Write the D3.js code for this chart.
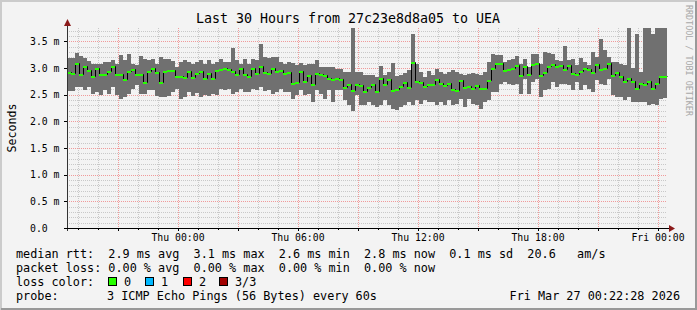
<!DOCTYPE html>
<html>
<head>
<meta charset="utf-8">
<script src="https://cdn.jsdelivr.net/npm/d3@7"></script>
<style>
body { margin: 0; background: #f3f3f3; }
text { font-family: "DejaVu Sans Mono", monospace; white-space: pre; }
</style>
</head>
<body>
<div id="chart"></div>
<script>
// median / max / min rtt per 12 minute step, in ms
const rttMedian = [
  2.925,2.913,3.100,2.894,3.031,2.956,2.844,3.006,2.894,2.881,
  2.950,3.031,2.881,2.881,2.800,2.944,2.988,2.881,2.894,2.738,
  2.938,3.006,2.925,2.738,2.944,2.969,2.956,2.844,2.844,2.831,
  2.944,2.831,2.906,2.938,2.819,2.906,2.819,2.956,2.988,3.006,
  2.975,2.944,2.881,3.006,2.881,2.844,3.006,2.906,3.031,2.925,
  2.913,3.006,2.944,2.969,2.913,2.925,2.719,2.738,2.944,2.756,
  2.875,2.706,2.913,2.894,2.875,2.819,2.800,2.813,2.800,2.644,
  2.706,2.581,2.706,2.675,2.569,2.644,2.694,2.569,2.819,2.694,
  2.800,2.581,2.613,2.656,2.738,2.644,3.113,2.756,2.738,2.656,
  2.706,2.706,2.800,2.719,2.675,2.719,2.613,2.594,2.781,2.644,
  2.656,2.631,2.688,2.631,2.631,2.781,3.006,3.100,3.100,2.969,
  2.988,3.006,3.050,2.863,3.031,2.881,3.069,3.100,2.863,2.925,
  3.031,3.069,3.038,3.050,2.988,3.063,2.913,2.881,2.938,3.006,
  2.988,2.925,3.081,2.988,3.006,3.094,2.863,2.925,2.844,2.756,
  2.819,2.750,2.631,2.719,2.694,2.756,2.631,2.719,2.844,2.850
];
const rttMax = [
  3.194,3.194,3.281,3.219,3.194,3.125,3.081,3.081,3.081,3.113,
  3.113,3.156,3.081,3.250,3.144,3.256,3.081,3.050,3.219,3.175,
  3.156,3.175,3.081,3.206,3.163,3.175,3.125,3.019,3.113,3.144,
  3.113,3.081,3.113,3.144,3.081,3.156,3.081,3.113,3.175,3.113,
  3.113,3.375,3.156,3.081,3.175,3.081,3.175,3.144,3.456,3.206,
  3.194,3.206,3.206,3.113,3.081,3.113,3.100,3.050,3.094,3.050,
  3.081,3.081,3.144,3.019,3.019,3.019,3.019,2.988,2.988,2.925,
  2.925,3.750,2.925,2.925,2.863,2.863,2.875,2.831,3.038,2.863,
  2.925,3.100,2.844,2.863,2.906,2.969,3.631,3.081,2.925,2.831,
  2.944,2.863,2.988,2.925,2.894,2.925,2.956,2.925,2.894,2.863,
  2.894,2.913,2.894,2.863,2.925,3.113,3.269,3.238,3.238,3.113,
  3.144,3.175,3.219,3.081,3.175,3.019,3.256,3.256,3.081,3.300,
  3.288,3.269,3.144,3.125,3.413,3.144,3.175,3.063,3.194,3.113,
  3.050,3.300,3.206,3.550,3.331,3.206,3.113,3.113,3.081,3.050,
  3.750,3.000,3.631,2.925,3.750,3.750,3.644,3.750,3.750,3.750
];
const rttMin = [
  2.569,2.569,2.644,2.644,2.581,2.644,2.506,2.550,2.488,2.581,
  2.519,2.644,2.488,2.425,2.456,2.519,2.613,2.675,2.519,2.519,
  2.581,2.581,2.475,2.456,2.456,2.475,2.550,2.613,2.425,2.456,
  2.550,2.475,2.538,2.456,2.488,2.475,2.519,2.488,2.613,2.581,
  2.613,2.519,2.550,2.613,2.550,2.550,2.613,2.581,2.644,2.563,
  2.581,2.519,2.550,2.613,2.550,2.550,2.425,2.488,2.581,2.488,
  2.519,2.363,2.581,2.519,2.425,2.581,2.363,2.581,2.581,2.394,
  2.300,2.188,2.488,2.300,2.300,2.363,2.300,2.269,2.300,2.394,
  2.300,2.238,2.219,2.269,2.300,2.363,2.300,2.394,2.331,2.394,
  2.363,2.363,2.300,2.363,2.300,2.394,2.300,2.331,2.425,2.269,
  2.425,2.331,2.300,2.238,2.363,2.394,2.550,2.550,2.706,2.738,
  2.706,2.675,2.706,2.519,2.800,2.519,2.738,2.800,2.456,2.581,
  2.613,2.738,2.644,2.706,2.706,2.675,2.581,2.738,2.581,2.675,
  2.613,2.550,2.769,2.706,2.675,2.800,2.500,2.456,2.456,2.394,
  2.456,2.363,2.363,2.363,2.363,2.300,2.331,2.300,2.425,2.430
];

const yTickValues = [0, 0.5, 1.0, 1.5, 2.0, 2.5, 3.0, 3.5];
const yTickLabels = ["0.0", "0.5 m", "1.0 m", "1.5 m", "2.0 m", "2.5 m", "3.0 m", "3.5 m"];

const lossLabels = ["0", "1", "2", "3/3"];
const lossColors = ["#26ff00", "#00b8ff", "#ff0000", "#a10000"];

const W = 697, H = 310;
const pLeft = 67, pRight = 667, pTop = 28, pBottom = 228;
const start = new Date(2026, 2, 25, 18, 27), end = new Date(2026, 2, 27, 0, 27);
const stepMin = 12;
const colTimes = rttMedian.map((d, i) => d3.timeMinute.offset(start, i * stepMin));

const svg = d3.select("#chart").append("svg")
    .attr("width", W)
    .attr("height", H);

svg.append("rect").attr("width", W).attr("height", H).attr("fill", "#f3f3f3");
// 3d frame
svg.append("path").attr("d", `M1,${H}V1H${W}`).attr("stroke", "#cbcbcb").attr("stroke-width", 2).attr("fill", "none");
svg.append("path").attr("d", `M1,${H-1}H${W-1}V1`).attr("stroke", "#999").attr("stroke-width", 2).attr("fill", "none");

const x = d3.scaleTime().domain([start, end]).range([pLeft, pRight]);
const y = d3.scaleLinear().domain([0, 3.75]).range([pBottom, pTop]);

const grid = svg.append("g").attr("shape-rendering", "crispEdges");

// horizontal grid
const minorY = d3.range(1, 38).filter(i => i % 5 != 0).map(i => i / 10);
grid.selectAll(".hmin").data(minorY).enter().append("line")
    .attr("x1", pLeft).attr("x2", pRight)
    .attr("y1", d => Math.round(y(d)) + 0.5).attr("y2", d => Math.round(y(d)) + 0.5)
    .attr("stroke", "#c8c8c8").attr("stroke-dasharray", "1,1");
grid.selectAll(".hmaj").data(yTickValues.slice(1)).enter().append("line")
    .attr("x1", pLeft).attr("x2", pRight)
    .attr("y1", d => Math.round(y(d)) + 0.5).attr("y2", d => Math.round(y(d)) + 0.5)
    .attr("stroke", "#f09a9a").attr("stroke-dasharray", "1,1");

// vertical grid
const hours = x.ticks(d3.timeHour.every(1));
const minorX = hours.filter(d => d.getHours() % 3 != 0);
const majorX = hours.filter(d => d.getHours() % 3 == 0);
const labelX = hours.filter(d => d.getHours() % 6 == 0);
grid.selectAll(".vmin").data(minorX).enter().append("line")
    .attr("x1", d => Math.round(x(d)) + 0.5).attr("x2", d => Math.round(x(d)) + 0.5)
    .attr("y1", pTop).attr("y2", pBottom)
    .attr("stroke", "#c8c8c8").attr("stroke-dasharray", "1,1");
grid.selectAll(".vmaj").data(majorX).enter().append("line")
    .attr("x1", d => Math.round(x(d)) + 0.5).attr("x2", d => Math.round(x(d)) + 0.5)
    .attr("y1", pTop).attr("y2", pBottom)
    .attr("stroke", "#f09a9a").attr("stroke-dasharray", "1,1");

// smoke
const stepEnd = t => d3.timeMinute.offset(t, stepMin);
svg.append("g").attr("shape-rendering", "crispEdges")
    .selectAll("rect").data(colTimes).enter().append("rect")
    .attr("x", d => x(d))
    .attr("width", d => x(stepEnd(d)) - x(d))
    .attr("y", (d, i) => y(Math.min(rttMax[i], 3.75)))
    .attr("height", (d, i) => y(rttMin[i]) - y(Math.min(rttMax[i], 3.75)))
    .attr("fill", "#707070");

// median line
const medPts = colTimes.map((t, i) => [t, rttMedian[i]]);
medPts.push([end, rttMedian[rttMedian.length - 1]]);
svg.append("path")
    .attr("d", d3.line().x(d => Math.round(x(d[0])) + 0.5).y(d => Math.round(y(d[1])) + 0.5).curve(d3.curveStepAfter)(medPts))
    .attr("fill", "none").attr("stroke", "#000").attr("stroke-width", 1);

svg.append("g").attr("shape-rendering", "crispEdges")
    .selectAll("rect").data(colTimes).enter().append("rect")
    .attr("x", d => x(d))
    .attr("width", d => x(stepEnd(d)) - x(d))
    .attr("y", (d, i) => Math.round(y(rttMedian[i])) - 0.5)
    .attr("height", 2)
    .attr("fill", lossColors[0]);

// axes
const axis = svg.append("g").attr("shape-rendering", "crispEdges");
axis.append("line").attr("x1", pLeft + 0.5).attr("x2", pLeft + 0.5).attr("y1", pBottom + 3).attr("y2", 24).attr("stroke", "#333");
axis.append("line").attr("x1", pLeft - 3).attr("x2", pRight + 3).attr("y1", pBottom + 0.5).attr("y2", pBottom + 0.5).attr("stroke", "#000");
axis.selectAll(".yt").data(yTickValues).enter().append("line")
    .attr("x1", pLeft - 3).attr("x2", pLeft)
    .attr("y1", d => Math.round(y(d)) + 0.5).attr("y2", d => Math.round(y(d)) + 0.5)
    .attr("stroke", "#000");
axis.selectAll(".xt").data(majorX).enter().append("line")
    .attr("x1", d => Math.round(x(d)) + 0.5).attr("x2", d => Math.round(x(d)) + 0.5)
    .attr("y1", pBottom).attr("y2", pBottom + 3)
    .attr("stroke", "#000");
axis.selectAll(".xm").data(minorX).enter().append("line")
    .attr("x1", d => Math.round(x(d)) + 0.5).attr("x2", d => Math.round(x(d)) + 0.5)
    .attr("y1", pBottom).attr("y2", pBottom + 2)
    .attr("stroke", "#000");

svg.append("path").attr("d", `M${pLeft + 0.5},19L${pLeft - 3},26L${pLeft + 4},26Z`).attr("fill", "#8b1a1a");
svg.append("path").attr("d", `M${pRight + 8},${pBottom + 0.5}L${pRight + 2},${pBottom - 3}L${pRight + 2},${pBottom + 4}Z`).attr("fill", "#8b1a1a");

// labels
svg.selectAll(".ylab").data(yTickValues).enter().append("text")
    .attr("x", 30).attr("y", d => y(d) + 3.5)
    .attr("font-size", "9.8px")
    .text((d, i) => yTickLabels[i]);

svg.selectAll(".xlab").data(labelX).enter().append("text")
    .attr("x", d => x(d)).attr("y", 241)
    .attr("text-anchor", "middle")
    .attr("font-size", "9.8px")
    .text(d => d3.timeFormat("%a %H:%M")(d));

svg.append("text")
    .attr("x", 348).attr("y", 23)
    .attr("text-anchor", "middle")
    .attr("font-size", "13.3px")
    .text("Last 30 Hours from 27c23e8d8a05 to UEA");

svg.append("text")
    .attr("transform", "translate(16,128) rotate(-90)")
    .attr("text-anchor", "middle")
    .attr("font-size", "11.6px")
    .text("Seconds");

svg.append("text")
    .attr("transform", "translate(686,5) rotate(90)")
    .attr("font-size", "8.4px")
    .attr("fill", "#a8a8a8")
    .text("RRDTOOL / TOBI OETIKER");

// legend
const lg = svg.append("g").attr("font-size", "11.8px");
lg.append("text").attr("x", 16).attr("y", 258)
    .text("median rtt:  2.9 ms avg  3.1 ms max  2.6 ms min  2.8 ms now  0.1 ms sd  20.6   am/s");
lg.append("text").attr("x", 16).attr("y", 272)
    .text("packet loss: 0.00 % avg  0.00 % max  0.00 % min  0.00 % now");
lg.append("text").attr("x", 16).attr("y", 286).text("loss color:");
const boxX = [108, 145, 183, 219];
lossLabels.forEach((l, i) => {
    lg.append("rect").attr("x", boxX[i] + 0.5).attr("y", 277.5).attr("width", 8).attr("height", 8)
        .attr("fill", lossColors[i]).attr("stroke", "#000").attr("shape-rendering", "crispEdges");
    lg.append("text").attr("x", boxX[i] + 16).attr("y", 286).text(l);
});
lg.append("text").attr("x", 16).attr("y", 300).text("probe:");
lg.append("text").attr("x", 107).attr("y", 300).text("3 ICMP Echo Pings (56 Bytes) every 60s");
lg.append("text").attr("x", 680).attr("y", 300).attr("text-anchor", "end").text("Fri Mar 27 00:22:28 2026");
</script>
</body>
</html>
